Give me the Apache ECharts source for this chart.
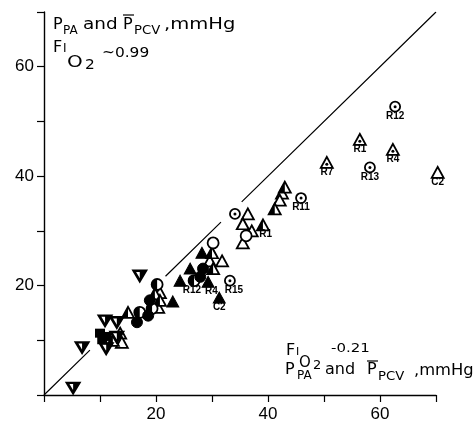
<!DOCTYPE html>
<html><head><meta charset="utf-8">
<script src="https://cdn.jsdelivr.net/npm/echarts@6/dist/echarts.min.js"></script>
<style>html,body{margin:0;padding:0;background:#fff}#c{width:475px;height:429px}</style>
</head><body><div id="c"></div>
<script>
// ---- data ----
const xLabelValues = [20, 40, 60];
const yLabelValues = [20, 40, 60];
const identityLine = [[0,0],[8.2,8.2],['-','-'],[21.7,21.7],[31.6,31.6],['-','-'],[35.3,35.3],[70,70]];

const openTri   = [[42.5,36.9],[42.1,35.6],[36.4,33.1],[35.5,31.3],[37.1,30.0],[35.5,27.8],[29.6,24.5],[31.8,24.5],[20.7,18.7],[20.4,16.0],[13.6,11.3],[13.9,9.6],[70.3,40.7]];
const dotTri    = [[56.4,46.7],[62.3,44.9],[50.5,42.5]];
const halfTri   = [[43.0,38.0],[41.2,34.0],[39.1,31.1],[30.0,26.0],[30.2,23.1],[19.8,18.5],[20.7,17.3],[15.0,15.1],[12.3,10.0]];
const filledTri = [[28.2,26.0],[26.1,23.1],[24.3,20.9],[29.3,20.7],[31.3,17.8],[23.0,17.1]];
const dotCirc   = [[62.7,52.7],[58.2,41.6],[45.9,36.0],[34.1,33.1],[33.2,20.9]];
const openCirc  = [[30.2,27.8],[36.1,29.1]];
const halfCirc  = [[20.2,20.2],[19.3,15.8],[17.1,15.1],[26.8,20.9]];
const filledCirc= [[28.4,23.1],[27.9,21.6],[18.9,17.3],[18.6,14.5],[16.6,13.3]];
const invTri    = [[17.1,21.8],[10.9,13.6],[13.0,13.3],[11.1,8.5],[13.0,10.6],[6.8,8.7],[5.2,1.3]];
const squares   = [[10.0,11.3],[11.1,10.7],[10.4,10.1]];
const pointLabels = [[62.7,52.7,'R12'],[56.4,46.7,'R1'],[62.3,44.9,'R4'],[50.5,42.5,'R7'],[58.2,41.6,'R13'],[70.3,40.7,'C2'],[45.9,36.0,'R11'],[39.6,31.1,'R1'],[26.4,20.9,'R12'],[29.9,20.7,'R4'],[33.9,20.9,'R15'],[31.3,17.8,'C2']];

// ---- symbols ----
const HALF_TRI = 'path://M5.5,0L5.5,10L0,10Z M11,0L11,0';
const INV_TRI = 'path://M0,0L11,0L5.5,10Z';
const HALF_INV = 'path://M5.5,0L11,0L5.5,10Z M0,10L0,10';
const HALF_CIRC = 'path://M5,0 A5,5 0 0 0 5,10 Z M10,0L10,0';

const outline = {color:'#fff', borderColor:'#000', borderWidth:1.8, opacity:1};
const solid = {color:'#000', borderWidth:0, opacity:1};
function sc(data, symbol, size, style, extra) {
  return Object.assign({type:'scatter', data, symbol, symbolSize:size, itemStyle:style, clip:false, silent:true}, extra||{});
}
const series = [
  {type:'line', data:identityLine, showSymbol:false, symbol:'none', connectNulls:false,
   lineStyle:{color:'#000', width:1.2}, silent:true, z:1},
  sc(openTri,'triangle',[12,11],outline),
  sc(dotTri,'triangle',[12,11],outline),
  sc(dotTri,'circle',3,solid,{symbolOffset:[0,1.8]}),
  sc(halfTri,'triangle',[12,11],outline),
  sc(halfTri,HALF_TRI,[12,11],solid),
  sc(filledTri,'triangle',[12,11],{color:'#000', borderColor:'#000', borderWidth:1, opacity:1}),
  sc(openCirc,'circle',11,outline),
  sc(halfCirc,'circle',11,outline),
  sc(halfCirc,HALF_CIRC,[11,11],solid),
  sc(filledCirc,'circle',11,{color:'#000', borderColor:'#000', borderWidth:1, opacity:1}),
  sc(dotCirc,'circle',10,outline),
  sc(dotCirc,'circle',3,solid),
  sc(invTri,INV_TRI,[12,10],{color:'#fff', borderColor:'#000', borderWidth:2.6, opacity:1}),
  sc(invTri,HALF_INV,[12,10],solid),
  sc(squares,'rect',[10,9],{color:'#000', borderWidth:0, opacity:1}),
  sc(pointLabels,'circle',1,{color:'rgba(0,0,0,0)', borderWidth:0},{z:5,
    label:{show:true, position:'bottom', distance:4, formatter:p=>p.value[2],
      fontFamily:'Liberation Sans', fontSize:10, fontWeight:'bold', color:'#000', opacity:1}})
];

// ---- annotation texts ----
const FONT = 'DejaVu Sans';
function t(x, base, s, size, sx) {
  return {type:'text', x:x, y:base - 0.3*size, scaleX:sx||1, silent:true,
    style:{text:s, font:size+'px "'+FONT+'"', fill:'#000', textAlign:'left', textVerticalAlign:'middle', align:'left', verticalAlign:'middle'}};
}
function bar(x1, x2, y) {
  return {type:'line', silent:true, shape:{x1:x1,y1:y,x2:x2,y2:y}, style:{stroke:'#000', lineWidth:1.2}};
}
const graphics = [
  // top-left
  t(53,30,'P',16), t(63,34,'PA',12), t(83,30,'and',16,1.15), t(123,30,'P',16), bar(123,134,15), t(134,34,'PCV',12,1.1), t(164,30,',mmHg',16,1.22),
  t(53,53,'F',16), t(63,52,'I',12), t(67,68,'O',16,1.25), t(85,70,'2',14,1.1), t(102,58,'~0.99',14,1.1),
  // bottom-right
  t(286,356,'F',16), t(296,355,'I',11), t(299,368,'O',15), t(313,370,'2',13), t(331,353,'-0.21',13,1.15),
  t(285,375,'P',16), t(297,379,'PA',12), t(325,375,'and',16), t(367,375,'P',16), bar(367,378,361), t(378,380,'PCV',12,1.1), t(414,376,',mmHg',16,1.02)
];

const axisCommon = {
  type:'value', min:0, max:70, interval:10,
  axisLine:{show:true, onZero:false, lineStyle:{color:'#000', width:1.4}},
  axisTick:{show:true, inside:false, length:7, lineStyle:{color:'#000', width:1.2}},
  splitLine:{show:false}
};
const chart = echarts.init(document.getElementById('c'), null, {renderer:'canvas'});
chart.setOption({
  animation:false,
  backgroundColor:'#fff',
  grid:{left:44, right:39, top:12, bottom:34, containLabel:false},
  xAxis:Object.assign({}, axisCommon, {
    axisLabel:{margin:11, fontFamily:'Liberation Sans', fontSize:17, color:'#000',
      formatter:v=>xLabelValues.includes(v)?String(v):''}
  }),
  yAxis:Object.assign({}, axisCommon, {
    axisLabel:{margin:10, fontFamily:'Liberation Sans', fontSize:17, color:'#000',
      formatter:v=>yLabelValues.includes(v)?String(v):''}
  }),
  series:series,
  graphic:graphics
});
</script></body></html>
